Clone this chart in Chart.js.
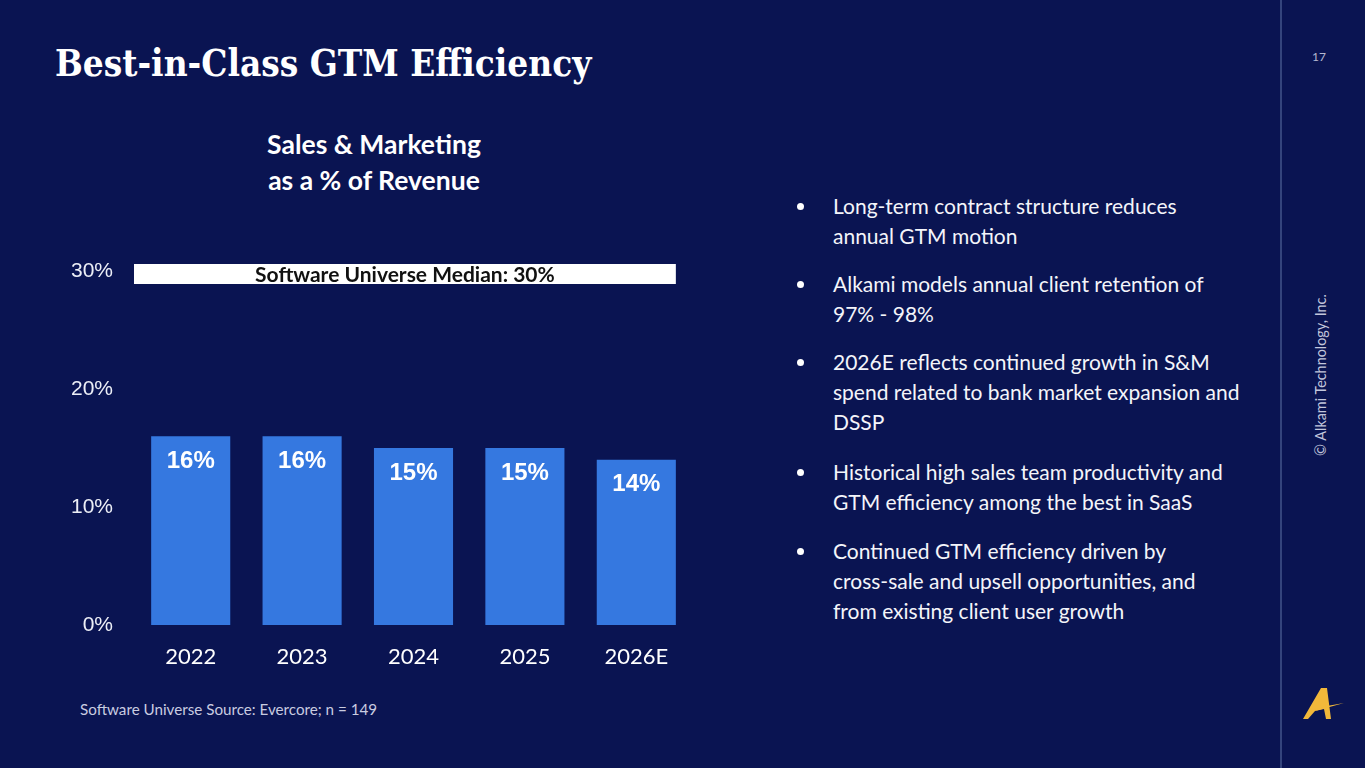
<!DOCTYPE html>
<html>
<head>
<meta charset="utf-8">
<script src="https://cdn.jsdelivr.net/npm/chart.js@4.4.1/dist/chart.umd.min.js"></script>
<style>
  html,body{margin:0;padding:0;}
  body{width:1365px;height:768px;background:#0a1452;position:relative;overflow:hidden;font-family:Lato,"Open Sans",sans-serif;color:#fff;}
  .abs{position:absolute;}
  #title{left:55px;top:42px;font-family:"DejaVu Serif Condensed","DejaVu Serif",serif;font-stretch:condensed;font-weight:bold;font-size:36.6px;white-space:nowrap;}
  #ctitle{left:174px;top:126px;width:400px;text-align:center;font-weight:bold;font-size:26.5px;line-height:36px;}
  #foot{left:80px;top:700px;font-size:15.2px;color:#c9cce0;white-space:nowrap;}
  .bul{left:833px;font-size:21px;line-height:30px;white-space:nowrap;color:#f4f5fa;}
  .bul:before{content:"";position:absolute;left:-36px;top:12px;width:7px;height:7px;border-radius:50%;background:#fff;}
  #vline{left:1280px;top:0;width:2px;height:768px;background:#34447c;}
  #pnum{left:1312px;top:49px;font-size:12px;color:#b4b8d0;}
  #copy{left:1320px;top:375px;font-size:14.4px;color:#c2c6dc;white-space:nowrap;transform:translate(-50%,-50%) rotate(-90deg);}
  #wrap{left:0;top:230px;width:720px;height:470px;}
</style>
</head>
<body>
<div id="title" class="abs">Best-in-Class GTM Efficiency</div>
<div id="ctitle" class="abs">Sales &amp; Marketing<br>as a % of Revenue</div>
<div id="wrap" class="abs"><canvas id="c"></canvas></div>
<div id="foot" class="abs">Software Universe Source: Evercore; n = 149</div>

<div class="abs bul" style="top:191px">Long-term contract structure reduces<br>annual GTM motion</div>
<div class="abs bul" style="top:269px">Alkami models annual client retention of<br>97% - 98%</div>
<div class="abs bul" style="top:347px">2026E reflects continued growth in S&amp;M<br>spend related to bank market expansion and<br>DSSP</div>
<div class="abs bul" style="top:457px">Historical high sales team productivity and<br>GTM efficiency among the best in SaaS</div>
<div class="abs bul" style="top:536px">Continued GTM efficiency driven by<br>cross-sale and upsell opportunities, and<br>from existing client user growth</div>

<div id="vline" class="abs"></div>
<div id="pnum" class="abs">17</div>
<div id="copy" class="abs">© Alkami Technology, Inc.</div>
<svg class="abs" style="left:1300px;top:686px" width="46" height="36" viewBox="0 0 46 36">
  <polygon points="3,33 21,2 27,2 31,33 26,33 24,23 15,25 8,33" fill="#f2b83a"/>
  <polygon points="15,25 44,17 24,20.5" fill="#f2b83a"/>
</svg>

<script>
const categories = ["2022", "2023", "2024", "2025", "2026E"];
const smPercent = [16, 16, 15, 15, 14];
const yTicks = [0, 10, 20, 30];
const medianValue = 30;
const medianLabel = "Software Universe Median: 30%";

const overlayPlugin = {
  id: 'overlay',
  afterDatasetsDraw(chart) {
    const ctx = chart.ctx;
    const meta = chart.getDatasetMeta(0);
    const y = chart.scales.y;
    ctx.save();
    ctx.fillStyle = '#ffffff';
    ctx.font = 'bold 24px "Liberation Sans", Arial, sans-serif';
    ctx.textAlign = 'center';
    ctx.textBaseline = 'middle';
    meta.data.forEach((bar, i) => {
      ctx.fillText(smPercent[i] + '%', bar.x, bar.y + 25);
    });
    const last = meta.data[meta.data.length - 1];
    const left = chart.chartArea.left - 1;
    const right = last.x + last.width / 2;
    const yc = y.getPixelForValue(medianValue) + 3;
    ctx.fillStyle = '#ffffff';
    ctx.fillRect(left, yc - 10, right - left, 20);
    ctx.fillStyle = '#111111';
    ctx.font = 'bold 21px Lato, sans-serif';
    ctx.fillText(medianLabel, (left + right) / 2, yc + 1);
    ctx.restore();
  }
};

new Chart(document.getElementById('c'), {
  type: 'bar',
  data: {
    labels: categories,
    datasets: [{
      data: smPercent,
      backgroundColor: '#3578e0',
      barPercentage: 0.71,
      categoryPercentage: 1.0
    }]
  },
  options: {
    responsive: true,
    maintainAspectRatio: false,
    animation: false,
    layout: { padding: { top: 41, right: 28, left: 0, bottom: 0 } },
    plugins: { legend: { display: false }, tooltip: { enabled: false } },
    scales: {
      x: {
        grid: { display: false, drawTicks: false },
        border: { display: false },
        ticks: { color: '#ffffff', font: { family: 'Lato', size: 22 }, padding: 19 },
        afterFit(s) { s.height = 75; }
      },
      y: {
        min: 0, max: 30,
        afterBuildTicks(s) { s.ticks = yTicks.map(v => ({ value: v })); },
        grid: { display: false, drawTicks: false },
        border: { display: false },
        ticks: {
          color: '#eceef6',
          font: { family: '"Liberation Sans", Arial', size: 21 },
          padding: 22,
          callback: v => v + '%'
        },
        afterFit(s) { s.width = 135; }
      }
    }
  },
  plugins: [overlayPlugin]
});
</script>
</body>
</html>
